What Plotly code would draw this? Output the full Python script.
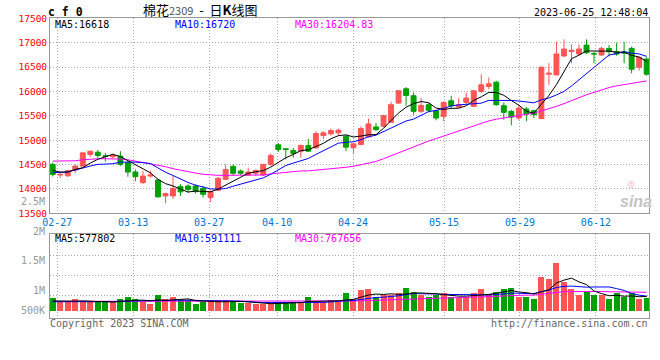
import plotly.graph_objects as go
import pandas as pd

W, H = 660, 360
def px(x): return x / W
def py(y): return 1 - y / H

# ---------------- data ----------------
opens = [14503, 14285, 14270, 14387, 14468, 14706, 14753, 14680, 14659, 14672,
         14537, 14346, 14130, 14265, 14183, 13857, 13857, 14048, 14060, 14060,
         14007, 13823, 13973, 14197, 14462, 14367, 14285, 14320, 14285, 14503,
         14904, 14823, 14789, 14775, 14890, 14843, 15095, 15129, 15150, 15081,
         14843, 14911, 15068, 15272, 15285, 15367, 15761, 16054, 15911, 15591,
         15727, 15605, 15489, 15809, 15680, 15775, 15693, 15999, 16101, 16190,
         15707, 15591, 15455, 15639, 15605, 15442, 16353, 16339, 16727, 16816,
         16768, 16951, 16775, 16747, 16883, 16815, 16802, 16883, 16496, 16665]
highs = [14540, 14340, 14385, 14503, 14750, 14785, 14800, 14740, 14720, 14775,
         14570, 14400, 14367, 14370, 14197, 13925, 14265, 14095, 14095, 14095,
         14060, 13970, 14245, 14503, 14503, 14400, 14435, 14400, 14517, 14728,
         14945, 14836, 14843, 14911, 15027, 15183, 15183, 15238, 15238, 15108,
         14945, 15285, 15442, 15353, 15524, 15790, 16034, 16088, 15979, 15864,
         15761, 15625, 15795, 15911, 15863, 15979, 16034, 16353, 16285, 16217,
         15775, 15625, 15727, 15680, 15625, 16510, 16578, 17020, 17067, 16965,
         16965, 17067, 16815, 16917, 16951, 16999, 17019, 16917, 16713, 16700]
lows = [14255, 14230, 14245, 14330, 14460, 14660, 14640, 14560, 14620, 14470,
        14250, 14160, 14100, 14230, 13823, 13708, 13790, 13857, 13925, 13905,
        13823, 13735, 13960, 14183, 14265, 14285, 14265, 14265, 14265, 14470,
        14755, 14605, 14640, 14640, 14755, 14823, 15027, 15095, 15095, 14775,
        14728, 14897, 15054, 15183, 15265, 15353, 15748, 15707, 15524, 15557,
        15571, 15408, 15387, 15659, 15659, 15748, 15680, 15965, 16047, 15707,
        15421, 15306, 15408, 15387, 15455, 15435, 16135, 16325, 16700, 16577,
        16747, 16768, 16577, 16727, 16713, 16733, 16577, 16373, 16427, 16325]
closes = [14295, 14299, 14375, 14468, 14740, 14773, 14686, 14670, 14686, 14503,
          14346, 14252, 14265, 14285, 13837, 13905, 14007, 13940, 13990, 13945,
          13890, 13940, 14218, 14400, 14320, 14320, 14347, 14380, 14503, 14687,
          14809, 14809, 14728, 14890, 14775, 15136, 15150, 15197, 15204, 14857,
          14925, 15238, 15333, 15217, 15503, 15727, 16013, 15918, 15591, 15714,
          15612, 15455, 15775, 15707, 15727, 15863, 16013, 16135, 16156, 15727,
          15571, 15475, 15659, 15537, 15523, 16496, 16373, 16768, 16870, 16843,
          16870, 16795, 16768, 16883, 16815, 16768, 16788, 16455, 16700, 16353]
volumes = [493000, 360000, 360000, 453000, 360000, 360000, 360000, 360000, 360000, 453000,
           533000, 453000, 360000, 253000, 613000, 453000, 533000, 413000, 413000, 253000,
           360000, 413000, 413000, 413000, 360000, 320000, 320000, 253000, 253000, 320000,
           360000, 360000, 320000, 320000, 533000, 360000, 360000, 440000, 347000, 693000,
           480000, 813000, 853000, 547000, 613000, 613000, 693000, 920000, 760000, 613000,
           560000, 613000, 720000, 560000, 520000, 560000, 693000, 880000, 667000, 760000,
           880000, 920000, 560000, 560000, 480000, 1360000, 1280000, 1920000, 1133000, 880000,
           613000, 733000, 640000, 613000, 453000, 693000, 560000, 693000, 453000, 507000]

# moving-average values before a full window is visible
ma5_head = [14380, 14346, 14346, 14400]
ma10_head = [14333, 14333, 14347, 14388, 14435, 14470, 14503, 14517, 14517]
ma30_head = [14571, 14571, 14571, 14578, 14598, 14612, 14619, 14619, 14619, 14612,
             14598, 14571, 14551, 14524, 14490, 14456, 14415, 14381, 14354, 14326,
             14299, 14286, 14279, 14279, 14279, 14279, 14286, 14286, 14286]
vma5_head = [400000, 390000, 385000, 395000]
vma10_head = [372000, 370000, 368000, 368000, 370000, 372000, 372000, 370000, 370000]
vma30_head = [385000, 385000, 385000, 386000, 386000, 386000, 386000, 386000, 386000, 387000,
              387000, 387000, 387000, 387000, 388000, 388000, 388000, 388000, 388000, 388000,
              388000, 388000, 388000, 388000, 388000, 388000, 387000, 387000, 387000]

date_ticks = ["02-27", "03-13", "03-27", "04-10", "04-24", "05-15", "05-29", "06-12"]
price_ticks = [13500, 14000, 14500, 15000, 15500, 16000, 16500, 17000, 17500]

# ---------------- styling ----------------
UP, DN = "#ff5555", "#00a000"
GRID = "#a8a8a8"
FRAME = "#999999"
MONO = "DejaVu Sans Mono"
tick_pos = [0.6, 10.7, 20.8, 29.85, 39.95, 52.05, 62.15, 72.25]  # where the grid lines sit
xrange_ = [-0.36, 79.31]

n = len(closes)
idx = list(range(n))

def ma(values, window, head):
    s = pd.Series(values, dtype=float).rolling(window).mean().tolist()
    s[:len(head)] = head
    return s

ma5, ma10, ma30 = ma(closes, 5, ma5_head), ma(closes, 10, ma10_head), ma(closes, 30, ma30_head)
vma5, vma10, vma30 = ma(volumes, 5, vma5_head), ma(volumes, 10, vma10_head), ma(volumes, 30, vma30_head)
vcolors = [UP if c >= o else DN for o, c in zip(opens, closes)]

fig = go.Figure()
fig.add_trace(go.Candlestick(
    x=idx, open=opens, high=highs, low=lows, close=closes,
    increasing=dict(line=dict(color=UP, width=1), fillcolor=UP),
    decreasing=dict(line=dict(color=DN, width=1), fillcolor=DN),
    whiskerwidth=0, hoverinfo="skip", xaxis="x", yaxis="y"))
for s, c in ((ma30, "#ff00ff"), (ma10, "#0000ff"), (ma5, "#000000")):
    fig.add_trace(go.Scatter(x=idx, y=s, mode="lines", line=dict(color=c, width=1),
                             hoverinfo="skip", xaxis="x", yaxis="y"))

fig.add_trace(go.Bar(x=idx, y=volumes, marker=dict(color=vcolors, line=dict(width=0)),
                     width=0.8, hoverinfo="skip", xaxis="x2", yaxis="y2"))
for s, c in ((vma30, "#ff00ff"), (vma10, "#0000ff"), (vma5, "#000000")):
    fig.add_trace(go.Scatter(x=idx, y=s, mode="lines", line=dict(color=c, width=1),
                             hoverinfo="skip", xaxis="x2", yaxis="y2"))

axis_common = dict(showgrid=True, gridcolor=GRID, griddash="1px,2px", gridwidth=1,
                   showline=True, linecolor=FRAME, linewidth=1, mirror=True,
                   zeroline=False, ticks="", fixedrange=True, automargin=False)

fig.update_layout(
    width=W, height=H, margin=dict(l=0, r=0, t=0, b=0, autoexpand=False),
    paper_bgcolor="white", plot_bgcolor="white", showlegend=False,
    boxgap=0.35, boxgroupgap=0, bargap=0,
    xaxis=dict(domain=[px(50), px(649)], range=xrange_, anchor="y",
               tickmode="array", tickvals=tick_pos, ticktext=date_ticks,
               tickfont=dict(family=MONO, size=10, color="#0078d0"),
               rangeslider=dict(visible=False), **axis_common),
    yaxis=dict(domain=[py(213.3), py(18.3)], range=[13500, 17500], anchor="x",
               tickmode="array", tickvals=price_ticks, ticktext=[str(v) for v in price_ticks],
               tickfont=dict(family=MONO, size=9.5, color="#ff0000"), **axis_common),
    xaxis2=dict(domain=[px(50), px(649)], range=xrange_, anchor="y2",
                tickmode="array", tickvals=tick_pos, showticklabels=False, **axis_common),
    yaxis2=dict(domain=[py(318.3), py(234.3)], range=[-292000, 3068000], anchor="x2",
                tickmode="array", tickvals=[628000, 1428000, 2228000],
                showticklabels=False, **axis_common),
)

def note(text, x, y, anchor="left", size=10, color="#000", family=MONO, **kw):
    fig.add_annotation(text=text, x=px(x), y=py(y), xref="paper", yref="paper",
                       xanchor=anchor, yanchor="middle", showarrow=False,
                       font=dict(family=family, size=size, color=color), borderpad=0, **kw)

note("<b>c f 0</b>", 47, 12, size=11.5)
note("棉花<span style='font-size:11px;color:#555'>2309</span>\u00a0\u00a0-\u00a0\u00a0日<b>K</b>线图",
     200, 9.5, anchor="center", size=13, family="Noto Sans CJK SC")
note("2023-06-25 12:48:04", 649, 12.3, anchor="right")

note("MA5:16618", 54, 24.3)
note("MA10:16720", 174, 24.3, color="#0000ff")
note("MA30:16204.83", 294, 24.3, color="#ff00ff")

note("MA5:577802", 54, 238.5)
note("MA10:591111", 174, 238.5, color="#0000ff")
note("MA30:767656", 294, 238.5, color="#ff00ff")

for t, y in (("2.5M", 201), ("2M", 231), ("1.5M", 260.7), ("1M", 290.7), ("500K", 310.7)):
    note(t, 46, y, anchor="right", color="#999999")

note("Copyright 2023 SINA.COM", 49, 323.5, color="#666666")
note("http://finance.sina.com.cn", 649, 323.5, anchor="right", color="#666666")
note("◎", 631, 184, anchor="center", size=9, color="#f2b0b0", family="DejaVu Sans")
note("<b><i>sina</i></b>", 636, 201, anchor="center", size=16, color="#c4c4c4",
     family="Liberation Sans")

fig.write_html("out.html", config={"displayModeBar": False},
               post_script="document.body.style.margin='0';document.body.style.padding='0';")
